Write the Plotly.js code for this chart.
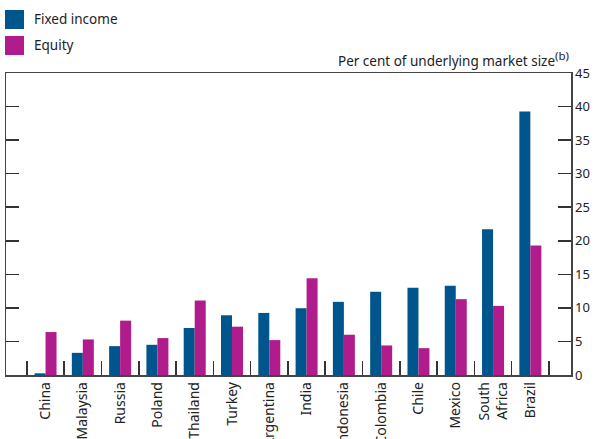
<!DOCTYPE html>
<html>
<head>
<meta charset="utf-8">
<script src="https://cdn.plot.ly/plotly-3.0.1.min.js"></script>
<style>html,body{margin:0;padding:0;background:#fff;}#chart{width:597px;height:439px;}</style>
</head>
<body>
<div id="chart"></div>
<script>
const categories = ["China","Malaysia","Russia","Poland","Thailand","Turkey","Argentina","India","Indonesia","Colombia","Chile","Mexico","South<br>Africa","Brazil"];
const fixedIncome = [0.25, 3.3, 4.3, 4.5, 7.0, 8.9, 9.25, 9.95, 10.9, 12.4, 13.0, 13.3, 21.7, 39.25];
const equity = [6.4, 5.3, 8.1, 5.5, 11.1, 7.2, 5.2, 14.4, 6.0, 4.4, 4.0, 11.3, 10.3, 19.3];
const seriesNames = ["Fixed income", "Equity"];
const seriesColors = ["#00558c", "#b01c8c"];
const yTicks = [0, 5, 10, 15, 20, 25, 30, 35, 40, 45];
const axisTitle = "Per cent of underlying market size<sup><span style=\"font-size:11.5px\">(b)</span></sup>";

const FONT = "Noto Sans, Open Sans, sans-serif";
const TXT = "#222";

const traces = [fixedIncome, equity].map((vals, i) => ({
  type: "bar",
  x: categories,
  y: vals,
  name: seriesNames[i],
  marker: {color: seriesColors[i], line: {width: 0}},
  showlegend: false,
  hoverinfo: "skip"
}));

// custom legend (paper coords relative to plot area)
const W = 565, H = 302;
const px = v => (v - 6) / W;
const py = v => (375 - v) / H;
const shapes = [];
const annotations = [];
seriesNames.forEach((n, i) => {
  const top = 10 + i * 26;
  shapes.push({type: "rect", xref: "paper", yref: "paper",
    x0: px(5), x1: px(24), y0: py(top), y1: py(top + 19),
    fillcolor: seriesColors[i], line: {width: 0}});
  annotations.push({xref: "paper", yref: "paper", x: px(32), y: py(top + 9.5),
    xanchor: "left", yanchor: "middle", showarrow: false, text: n,
    font: {family: FONT, size: 13.5, color: TXT}});
});
annotations.push({xref: "paper", yref: "paper", x: 1, y: 1, xanchor: "right", yanchor: "bottom",
  yshift: 1, showarrow: false, text: axisTitle, font: {family: FONT, size: 13.5, color: TXT}});

const layout = {
  width: 597, height: 439,
  margin: {l: 6, r: 26, t: 73, b: 64, pad: 0},
  paper_bgcolor: "#fff", plot_bgcolor: "#fff",
  barmode: "group", bargap: 0.41, bargroupgap: 0,
  font: {family: FONT, size: 13, color: TXT},
  xaxis: {
    type: "category", range: [-1.06, 14.09],
    tickson: "boundaries", ticks: "inside", ticklen: 14, tickwidth: 1.5, tickcolor: "#333",
    showline: true, linecolor: "#444", linewidth: 1.5, mirror: true,
    showgrid: false, zeroline: false, tickangle: -90,
    tickfont: {family: FONT, size: 14, color: TXT}, automargin: false
  },
  yaxis: {
    side: "right", range: [0, 45], tickvals: yTicks, ticktext: yTicks.map(String),
    ticks: "inside", ticklen: 13, tickwidth: 1.5, tickcolor: "#333",
    showline: true, linecolor: "#444", linewidth: 1.5, mirror: "ticks",
    showgrid: false, zeroline: false,
    tickfont: {family: FONT, size: 13, color: TXT}, automargin: false
  },
  shapes: shapes,
  annotations: annotations
};

Plotly.newPlot("chart", traces, layout, {displayModeBar: false, staticPlot: true});
</script>
</body>
</html>
